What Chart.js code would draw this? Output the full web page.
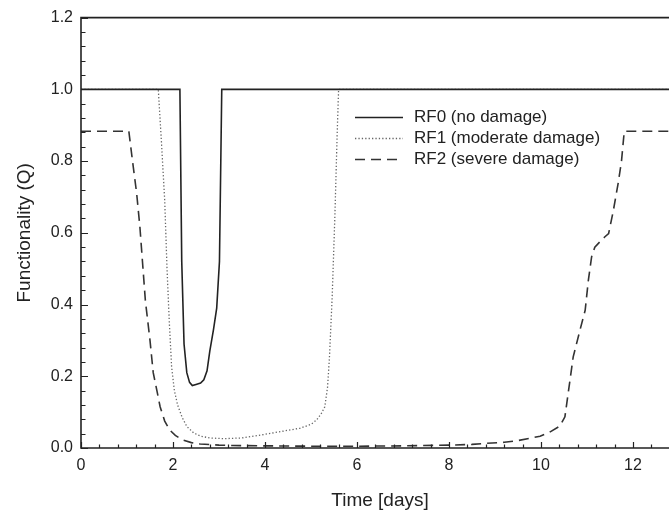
<!DOCTYPE html>
<html>
<head>
<meta charset="utf-8">
<script src="https://cdn.jsdelivr.net/npm/chart.js@4.4.0/dist/chart.umd.min.js"></script>
<style>
  html, body { margin: 0; padding: 0; background: #fff; overflow: hidden; }
  #wrap { width: 690px; height: 514px; }
</style>
</head>
<body>
<div id="wrap"><canvas id="chart" width="690" height="514"></canvas></div>
<script>
// values
const labels = ['RF0 (no damage)', 'RF1 (moderate damage)', 'RF2 (severe damage)'];

const rf0Time = [0, 2.15, 2.19, 2.24, 2.3, 2.36, 2.42, 2.5, 2.6, 2.67, 2.74, 2.8, 2.88, 2.95, 3.01, 3.06, 13];
const rf0Q = [1, 1, 0.52, 0.29, 0.21, 0.183, 0.174, 0.177, 0.181, 0.19, 0.215, 0.27, 0.33, 0.39, 0.52, 1, 1];

const rf1Time = [0, 1.68, 1.75, 1.82, 1.87, 1.92, 1.97, 2.03, 2.1, 2.2, 2.3, 2.45, 2.6, 2.8, 3.1, 3.5, 3.9, 4.3, 4.76, 5.0, 5.12, 5.22, 5.3, 5.36, 5.4, 5.46, 5.52, 5.57, 5.6, 13];
const rf1Q = [1, 1, 0.85, 0.69, 0.5, 0.35, 0.226, 0.16, 0.12, 0.085, 0.06, 0.042, 0.033, 0.028, 0.026, 0.028, 0.036, 0.045, 0.055, 0.066, 0.078, 0.095, 0.115, 0.17, 0.25, 0.42, 0.65, 0.88, 1, 1];

const rf2Time = [0, 1.04, 1.12, 1.21, 1.28, 1.4, 1.5, 1.57, 1.65, 1.72, 1.82, 1.93, 2.05, 2.22, 2.4, 2.59, 3.0, 3.3, 4, 5, 6, 7, 8.02, 8.5, 8.82, 9.2, 9.47, 9.75, 9.98, 10.2, 10.41, 10.52, 10.7, 10.85, 10.96, 11.03, 11.1, 11.17, 11.28, 11.39, 11.47, 11.57, 11.68, 11.75, 11.81, 13];
const rf2Q = [0.883, 0.883, 0.8, 0.71, 0.617, 0.41, 0.3, 0.21, 0.16, 0.115, 0.075, 0.05, 0.035, 0.022, 0.015, 0.011, 0.008, 0.007, 0.006, 0.005, 0.005, 0.006, 0.008, 0.01, 0.013, 0.016, 0.02, 0.027, 0.033, 0.045, 0.061, 0.087, 0.254, 0.33, 0.384, 0.468, 0.533, 0.56, 0.575, 0.589, 0.598, 0.66, 0.74, 0.8, 0.883, 0.883];

const xTicks = [0, 2, 4, 6, 8, 10, 12];
const yTicks = [0, 0.2, 0.4, 0.6, 0.8, 1.0, 1.2];

const FONT = "'Liberation Sans', Arial, sans-serif";
const INK = '#222';

function toPoints(xs, ys) {
    return xs.map((x, i) => ({x: x, y: ys[i]}));
}

// axis frame, inward ticks and the legend box
const framePlugin = {
    id: 'frame',
    afterDraw(chart) {
        const ctx = chart.ctx;
        const a = chart.chartArea;
        const xs = chart.scales.x;
        const ys = chart.scales.y;
        ctx.save();
        ctx.strokeStyle = INK;
        ctx.setLineDash([]);
        ctx.lineWidth = 1.6;
        ctx.beginPath();
        ctx.moveTo(a.left, a.top);
        ctx.lineTo(a.right, a.top);
        ctx.lineTo(a.right, a.bottom);
        ctx.lineTo(a.left, a.bottom);
        ctx.closePath();
        ctx.stroke();

        ctx.lineWidth = 1.2;
        ctx.beginPath();
        for (let i = 0; i <= 32; i++) {
            const v = i * 0.4;
            const px = Math.round(xs.getPixelForValue(v)) + 0.5;
            const len = (i % 5 === 0) ? 6 : 3.5;
            ctx.moveTo(px, a.bottom);
            ctx.lineTo(px, a.bottom - len);
        }
        for (let i = 0; i <= 30; i++) {
            const v = i * 0.04;
            const py = Math.round(ys.getPixelForValue(v)) + 0.5;
            const len = (i % 5 === 0) ? 7 : 4.5;
            ctx.moveTo(a.left, py);
            ctx.lineTo(a.left + len, py);
        }
        ctx.stroke();

        // legend
        const lx = 355, tx = 414;
        const rows = [117, 138, 159];
        ctx.font = '17px ' + FONT;
        ctx.textBaseline = 'middle';
        ctx.fillStyle = INK;
        chart.data.datasets.forEach((ds, i) => {
            ctx.strokeStyle = ds.borderColor;
            ctx.lineWidth = ds.borderWidth;
            ctx.setLineDash(ds.borderDash || []);
            ctx.beginPath();
            ctx.moveTo(lx, rows[i] + 0.5);
            ctx.lineTo(lx + 48, rows[i] + 0.5);
            ctx.stroke();
            ctx.fillText(ds.label, tx, rows[i]);
        });
        ctx.restore();
    }
};

const ctx = document.getElementById('chart').getContext('2d');
const myChart = new Chart(ctx, {
    type: 'line',
    data: {
        datasets: [
            {
                label: labels[0],
                data: toPoints(rf0Time, rf0Q),
                borderColor: '#222',
                borderWidth: 1.6,
                pointRadius: 0,
                tension: 0,
                fill: false
            },
            {
                label: labels[1],
                data: toPoints(rf1Time, rf1Q),
                borderColor: '#666',
                borderWidth: 1.3,
                borderDash: [1.3, 2.1],
                pointRadius: 0,
                tension: 0,
                fill: false
            },
            {
                label: labels[2],
                data: toPoints(rf2Time, rf2Q),
                borderColor: '#333',
                borderWidth: 1.6,
                borderDash: [10, 6],
                pointRadius: 0,
                tension: 0,
                fill: false
            }
        ]
    },
    options: {
        responsive: false,
        animation: false,
        events: [],
        layout: { padding: { top: 16, right: 11, left: 0, bottom: 0 } },
        plugins: {
            legend: { display: false },
            tooltip: { enabled: false }
        },
        scales: {
            x: {
                type: 'linear',
                min: 0,
                max: 13,
                afterFit(scale) { scale.height = 66; },
                afterBuildTicks(scale) { scale.ticks = xTicks.map(v => ({value: v})); },
                grid: { display: false, drawTicks: false },
                border: { display: false },
                ticks: {
                    padding: 8,
                    color: INK,
                    font: { family: FONT, size: 16 },
                    callback: v => String(v)
                },
                title: {
                    display: true,
                    text: 'Time [days]',
                    color: INK,
                    font: { family: FONT, size: 19 },
                    padding: { top: 0, bottom: 2 }
                }
            },
            y: {
                min: 0,
                max: 1.2,
                afterFit(scale) { scale.width = 81; },
                afterBuildTicks(scale) { scale.ticks = yTicks.map(v => ({value: v})); },
                grid: { display: false, drawTicks: false },
                border: { display: false },
                ticks: {
                    padding: 8,
                    color: INK,
                    font: { family: FONT, size: 16 },
                    callback: v => Number(v).toFixed(1)
                },
                title: {
                    display: true,
                    text: 'Functionality (Q)',
                    color: INK,
                    font: { family: FONT, size: 19 },
                    padding: { top: 13, bottom: 0 }
                }
            }
        }
    },
    plugins: [framePlugin]
});
</script>
</body>
</html>
